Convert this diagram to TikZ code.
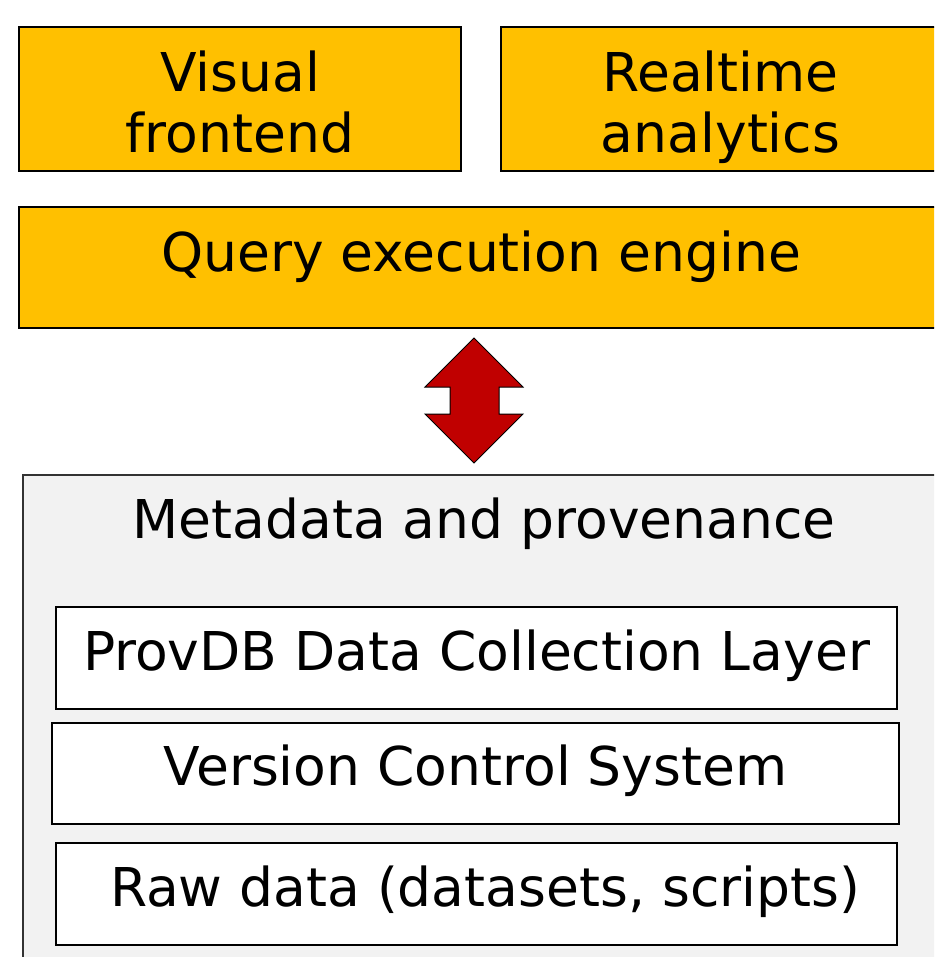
\documentclass[tikz,border=0pt]{standalone}
\usepackage{fontspec}
\setmainfont{DejaVu Sans}
\usepackage{tikz}
\usetikzlibrary{positioning}
\definecolor{amber}{HTML}{FFC000}
\definecolor{darkred}{HTML}{C00000}
\definecolor{panel}{HTML}{F2F2F2}

\begin{document}
\begin{tikzpicture}[
  x=1pt, y=-1pt,
  font=\fontsize{53.5}{61}\selectfont,
  ybox/.style={rectangle, draw=black, line width=1.5pt, fill=amber,
               inner sep=0pt},
  wbox/.style={rectangle, draw=black, line width=1.3pt, fill=white,
               inner sep=0pt, minimum width=841pt, minimum height=102pt,
               text height=40pt, text depth=16pt},
  outer/.style={rectangle, draw=black!80, line width=1.5pt, fill=panel,
                inner sep=0pt},
  bigarrow/.style={draw=black, line width=1pt, fill=darkred, line join=miter},
  every node/.append style={align=center}
]
\useasboundingbox (0,0) rectangle (934,957);
\clip (0,0) rectangle (934,957);
% applications on top
\node[ybox, minimum width=442pt, minimum height=144pt] (front) at (240,99) {};
\node[ybox, minimum width=439pt, minimum height=144pt] (rt) at (720.5,99) {};
\node[anchor=base] (fronttxt) at (240,153) {Visual\\frontend};
\node[anchor=base] (rttxt) at (720.5,153) {Realtime\\analytics};
% query engine
\node[ybox, minimum width=924pt, minimum height=121pt] (qe) at (481,267.5) {};
\node[anchor=base] (qetxt) at (481,272) {Query execution engine};
% two-way arrow
\draw[bigarrow] (474,338) -- (523,387) -- (499,387) -- (499,414) -- (523,414)
  -- (474,463) -- (425,414) -- (450,414) -- (450,387) -- (425,387) -- cycle;
% metadata panel with its layers
\node[outer, minimum width=922pt, minimum height=520pt] (meta) at (484,735) {};
\node[anchor=base] (metatxt) at (484,538) {Metadata and provenance};
\node[wbox] (prov) at (476.5,658) {ProvDB Data Collection Layer};
\node[wbox, minimum width=847pt, minimum height=101pt] (vcs) at (475.5,773.5)
  {Version Control System};
\node[wbox] (raw) at (476.5,894) {\ Raw data (datasets, scripts)};
\end{tikzpicture}
\end{document}
